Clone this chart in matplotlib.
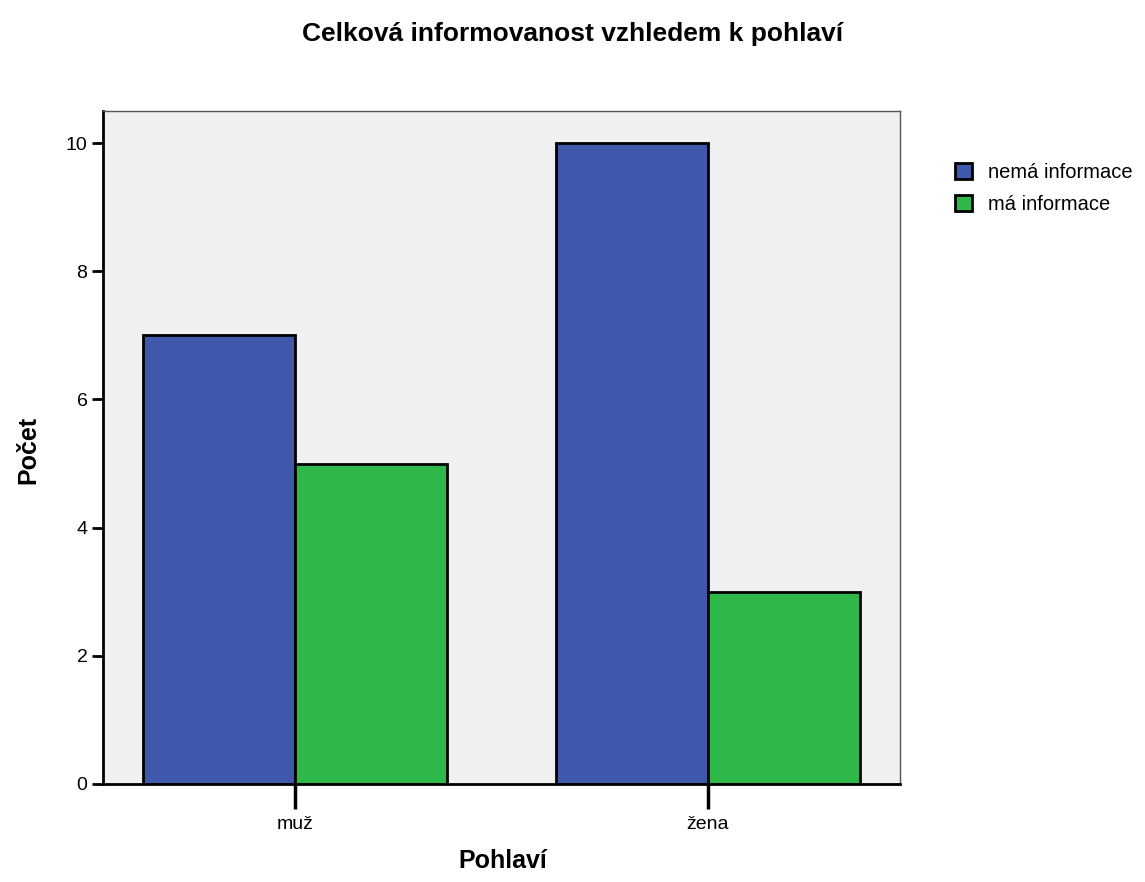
import matplotlib.pyplot as plt
import numpy as np

plt.rcParams['font.family'] = ['Liberation Sans', 'DejaVu Sans']

categories = ['muž', 'žena']
series_names = ['nemá informace', 'má informace']
nema = [7, 10]
ma = [5, 3]
colors = ['#3E58AC', '#2EB84A']

W, H = 1145, 882
fig = plt.figure(figsize=(W / 100, H / 100), dpi=100)
ax = fig.add_axes([102.7 / W, 1 - 784 / H, (900 - 102.7) / W, (784 - 111) / H])
ax.set_facecolor('#F0F0F0')

x = np.arange(len(categories))
w = 0.368
ax.bar(x - w / 2, nema, w, color=colors[0], edgecolor='black', linewidth=2, label=series_names[0])
ax.bar(x + w / 2, ma, w, color=colors[1], edgecolor='black', linewidth=2, label=series_names[1])

ax.set_xlim(-0.465, 1.465)
ax.set_ylim(0, 10.5)
ax.set_yticks([0, 2, 4, 6, 8, 10])
ax.set_xticks(x)
ax.set_xticklabels(categories)

ax.tick_params(axis='y', length=8, width=2, labelsize=14, pad=3)
ax.tick_params(axis='x', length=18, width=2.5, labelsize=14, pad=5)

for s in ['left', 'bottom']:
    ax.spines[s].set_linewidth(2)
    ax.spines[s].set_color('black')
for s in ['top', 'right']:
    ax.spines[s].set_linewidth(1)
    ax.spines[s].set_color('#555555')

# axis titles and chart title, placed in figure pixels
fig.text(503 / W, 1 - 868 / H, 'Pohlaví', fontsize=18, fontweight='bold', ha='center', va='baseline')
fig.text(28 / W, 1 - 450 / H, 'Počet', fontsize=18, fontweight='bold', ha='center', va='center', rotation=90)
fig.text(0.5, 1 - 41 / H, 'Celková informovanost vzhledem k pohlaví', fontsize=19, fontweight='bold',
         ha='center', va='baseline')

leg = ax.legend(loc='upper left', bbox_to_anchor=(955 / W, 1 - 163 / H), bbox_transform=fig.transFigure,
                frameon=False, fontsize=14.5, borderpad=0, borderaxespad=0,
                handlelength=0.85, handleheight=0.85, handletextpad=0.8, labelspacing=0.65)
for h in leg.legend_handles:
    h.set_linewidth(2)

fig.savefig('out.png', dpi=100)
